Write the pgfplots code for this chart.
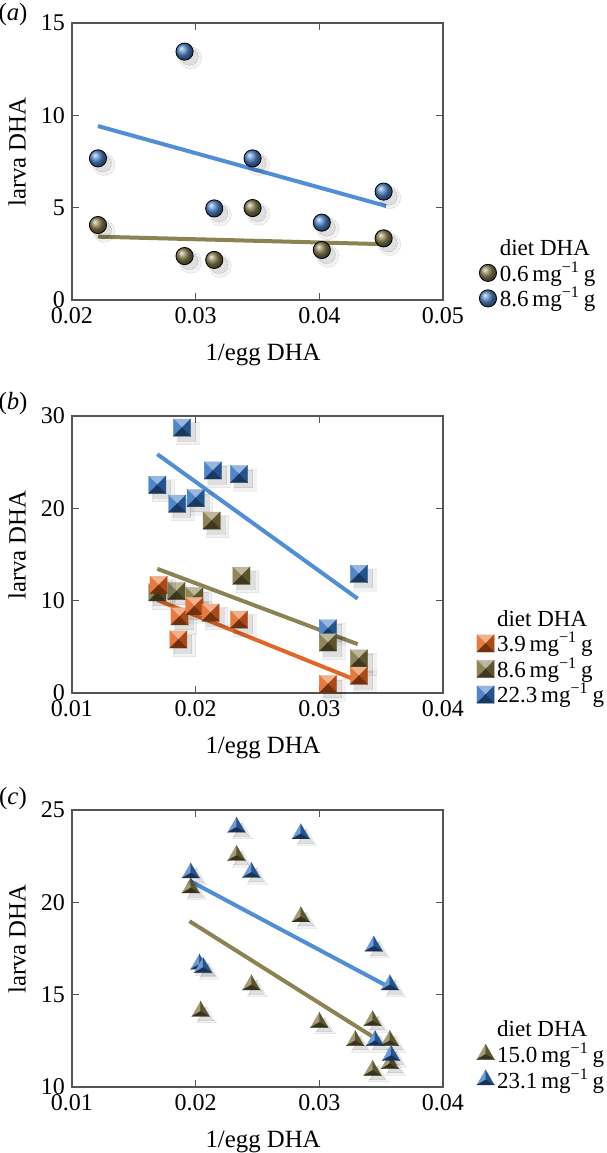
\documentclass[border=0pt]{standalone}
\usepackage{fontspec}
\setmainfont{Liberation Serif}
\usepackage{pgfplots}
\usepackage{pgfplotstable}
\pgfplotsset{compat=1.18}

\definecolor{lnblue}{RGB}{80,143,214}
\definecolor{lnolive}{RGB}{140,131,84}
\definecolor{lnorange}{RGB}{226,102,40}
\definecolor{mkblue}{RGB}{48,112,192}
\definecolor{mkolive}{RGB}{122,112,60}
\definecolor{mkorange}{RGB}{228,98,28}
\definecolor{framegray}{RGB}{85,85,85}
\newcommand{\lblfont}{\fontsize{12.4}{14}\selectfont}

% pyramid square marks
\newcommand{\defsq}[2]{%
\pgfdeclareplotmark{#1}{%
 \pgfsetlinewidth{0.15pt}%
 \pgfpathmoveto{\pgfqpoint{-\pgfplotmarksize}{\pgfplotmarksize}}%
 \pgfpathlineto{\pgfqpoint{\pgfplotmarksize}{\pgfplotmarksize}}%
 \pgfpathlineto{\pgfpointorigin}\pgfpathclose
 \pgfsetfillcolor{#2!50!white}\pgfsetstrokecolor{#2!50!white}\pgfusepath{fill,stroke}%
 \pgfpathmoveto{\pgfqpoint{-\pgfplotmarksize}{\pgfplotmarksize}}%
 \pgfpathlineto{\pgfqpoint{-\pgfplotmarksize}{-\pgfplotmarksize}}%
 \pgfpathlineto{\pgfpointorigin}\pgfpathclose
 \pgfsetfillcolor{#2!85!white}\pgfsetstrokecolor{#2!85!white}\pgfusepath{fill,stroke}%
 \pgfpathmoveto{\pgfqpoint{\pgfplotmarksize}{\pgfplotmarksize}}%
 \pgfpathlineto{\pgfqpoint{\pgfplotmarksize}{-\pgfplotmarksize}}%
 \pgfpathlineto{\pgfpointorigin}\pgfpathclose
 \pgfsetfillcolor{#2!75!black}\pgfsetstrokecolor{#2!75!black}\pgfusepath{fill,stroke}%
 \pgfpathmoveto{\pgfqpoint{-\pgfplotmarksize}{-\pgfplotmarksize}}%
 \pgfpathlineto{\pgfqpoint{\pgfplotmarksize}{-\pgfplotmarksize}}%
 \pgfpathlineto{\pgfpointorigin}\pgfpathclose
 \pgfsetfillcolor{#2!50!black}\pgfsetstrokecolor{#2!50!black}\pgfusepath{fill,stroke}%
}}
% pyramid triangle marks
\newcommand{\deftri}[2]{%
\pgfdeclareplotmark{#1}{%
 \pgfsetlinewidth{0.15pt}%
 \pgfpathmoveto{\pgfqpoint{0pt}{\pgfplotmarksize}}%
 \pgfpathlineto{\pgfqpoint{-0.866\pgfplotmarksize}{-0.5\pgfplotmarksize}}%
 \pgfpathlineto{\pgfpointorigin}\pgfpathclose
 \pgfsetfillcolor{#2!70!white}\pgfsetstrokecolor{#2!70!white}\pgfusepath{fill,stroke}%
 \pgfpathmoveto{\pgfqpoint{0pt}{\pgfplotmarksize}}%
 \pgfpathlineto{\pgfqpoint{0.866\pgfplotmarksize}{-0.5\pgfplotmarksize}}%
 \pgfpathlineto{\pgfpointorigin}\pgfpathclose
 \pgfsetfillcolor{#2!75!black}\pgfsetstrokecolor{#2!75!black}\pgfusepath{fill,stroke}%
 \pgfpathmoveto{\pgfqpoint{-0.866\pgfplotmarksize}{-0.5\pgfplotmarksize}}%
 \pgfpathlineto{\pgfqpoint{0.866\pgfplotmarksize}{-0.5\pgfplotmarksize}}%
 \pgfpathlineto{\pgfpointorigin}\pgfpathclose
 \pgfsetfillcolor{#2!45!black}\pgfsetstrokecolor{#2!45!black}\pgfusepath{fill,stroke}%
}}
\defsq{sqblue}{mkblue}
\defsq{sqolive}{mkolive}
\defsq{sqorange}{mkorange}
\deftri{triblue}{mkblue}
\deftri{triolive}{mkolive}

% ---------------- data ----------------
\pgfplotstableread{
x y
0.0221 4.06
0.0291 2.38
0.0315 2.17
0.0346 4.98
0.0402 2.71
0.0452 3.34
}\aOlive
\pgfplotstableread{
x y
0.0221 7.67
0.0291 13.45
0.0315 4.96
0.0346 7.67
0.0402 4.19
0.0452 5.87
}\aBlue
\pgfplotstableread{
x y
0.0170 11.70
0.0187 8.30
0.0186 5.80
0.0199 9.40
0.0212 8.70
0.0235 7.95
0.0307 0.97
0.0332 1.87
}\bOrange
\pgfplotstableread{
x y
0.0169 10.90
0.01845 11.04
0.0199 10.50
0.0213 18.67
0.0237 12.70
0.0307 5.47
0.0332 3.74
}\bOlive
\pgfplotstableread{
x y
0.0189 28.74
0.0169 22.55
0.0185 20.50
0.0200 21.12
0.0214 24.10
0.0235 23.71
0.0307 7.01
0.0332 12.91
}\bBlue
\pgfplotstableread{
x y
0.0233 22.54
0.0196 20.78
0.0285 19.22
0.0245 15.53
0.0204 14.10
0.0300 13.50
0.0329 12.51
0.0343 13.59
0.0357 12.51
0.0343 10.90
0.0357 11.26
}\cOlive
\pgfplotstableread{
x y
0.0233 24.07
0.0285 23.71
0.0196 21.59
0.0245 21.62
0.0203 16.65
0.0206 16.47
0.0344 17.63
0.0357 15.53
0.0345 12.51
0.0358 11.71
}\cBlue

\pgfplotsset{
 panel/.style={
   scale only axis, width=185.5pt, height=138.5pt,
   axis line style={draw=framegray, line width=0.9pt},
   every tick/.style={draw=framegray, line width=0.8pt},
   major tick length=3.5pt,
   tick align=inside,
   scaled x ticks=false,
   xticklabel style={/pgf/number format/fixed, /pgf/number format/fixed zerofill, /pgf/number format/precision=2},
   /pgf/number format/assume math mode=true,
   tick label style={font=\fontsize{12}{14}\selectfont},
   xlabel={\lblfont 1/egg DHA}, ylabel={\lblfont larva DHA},
   x label style={font=\lblfont, at={(axis description cs:0.515,-0.2)},anchor=center},
   y label style={font=\lblfont, at={(axis description cs:-0.148,0.534)},anchor=center},
   legend cell align=left,
   legend style={draw=none, fill=none, inner sep=0pt, font=\fontsize{11.5}{12}\selectfont,
     nodes={inner sep=0.6pt}, column sep=0.8pt, row sep=0.4pt, anchor=north west},
   legend image code/.code={\draw[##1] plot coordinates {(0pt,0pt)};},
   clip=false,
 },
 shadowA/.style={forget plot, only marks, mark=*, mark size=5.6pt,
   mark options={black, opacity=0.05, line width=0pt, xshift=3pt, yshift=-3pt}},
 shadowB/.style={forget plot, only marks, mark=*, mark size=4.4pt,
   mark options={black, opacity=0.08, line width=0pt, xshift=2.4pt, yshift=-2.4pt}},
 fitline/.style={forget plot, no marks, line width=2pt},
}

\begin{document}
\begin{tikzpicture}
\useasboundingbox (0,0) rectangle (303pt,-576.5pt);

% ---------------- (a) ----------------
\node at (6.5pt,-7.5pt) {\lblfont(\textit{a})};
\begin{axis}[panel, at={(36pt,-11.5pt)}, anchor=north west,
  xmin=0.02, xmax=0.05, ymin=0, ymax=15,
  xtick={0.02,0.03,0.04,0.05}, ytick={0,5,10,15},
  legend style={at={(axis description cs:1.096,0.224)}}]
\addplot[fitline, lnblue] coordinates {(0.0221,9.42) (0.0454,5.09)};
\addplot[fitline, lnolive] coordinates {(0.0221,3.43) (0.0454,3.02)};
\addplot[shadowA] table {\aOlive};
\addplot[shadowB] table {\aOlive};
\addplot[shadowA] table {\aBlue};
\addplot[shadowB] table {\aBlue};
\addplot[forget plot, only marks, mark=ball, ball color=mkolive!90!white, mark size=4.3pt] table {\aOlive};
\addplot[forget plot, only marks, mark=ball, ball color=mkblue!85!white, mark size=4.3pt] table {\aBlue};
\addlegendimage{empty legend}
\addlegendentry{diet DHA}
\addlegendimage{only marks, mark=ball, ball color=mkolive!90!white, mark size=4.3pt}
\addlegendentry{0.6\,mg\textsuperscript{−1}\,g}
\addlegendimage{only marks, mark=ball, ball color=mkblue!85!white, mark size=4.3pt}
\addlegendentry{8.6\,mg\textsuperscript{−1}\,g}
\end{axis}

% ---------------- (b) ----------------
\node at (6.5pt,-202pt) {\lblfont(\textit{b})};
\begin{axis}[panel, at={(36pt,-208pt)}, anchor=north west,
  xmin=0.01, xmax=0.04, ymin=0, ymax=30,
  xtick={0.01,0.02,0.03,0.04}, ytick={0,10,20,30},
  legend style={at={(axis description cs:1.090,0.305)}}]
\addplot[fitline, lnblue] coordinates {(0.0169,25.86) (0.0331,10.22)};
\addplot[fitline, lnolive] coordinates {(0.0169,13.45) (0.0331,5.29)};
\addplot[fitline, lnorange] coordinates {(0.0169,10.07) (0.0331,1.33)};
\addplot[shadowA, mark=square*] table {\bBlue};
\addplot[shadowB, mark=square*] table {\bBlue};
\addplot[forget plot, only marks, mark=sqblue, mark size=4.3pt] table {\bBlue};
\addplot[shadowA, mark=square*] table {\bOlive};
\addplot[shadowB, mark=square*] table {\bOlive};
\addplot[forget plot, only marks, mark=sqolive, mark size=4.3pt] table {\bOlive};
\addplot[shadowA, mark=square*] table {\bOrange};
\addplot[shadowB, mark=square*] table {\bOrange};
\addplot[forget plot, only marks, mark=sqorange, mark size=4.3pt] table {\bOrange};
\addlegendimage{empty legend}
\addlegendentry{diet DHA}
\addlegendimage{only marks, mark=sqorange, mark size=4.3pt}
\addlegendentry{3.9\,mg\textsuperscript{−1}\,g}
\addlegendimage{only marks, mark=sqolive, mark size=4.3pt}
\addlegendentry{8.6\,mg\textsuperscript{−1}\,g}
\addlegendimage{only marks, mark=sqblue, mark size=4.3pt}
\addlegendentry{22.3\,mg\textsuperscript{−1}\,g}
\end{axis}

% ---------------- (c) ----------------
\node at (6.5pt,-399.5pt) {\lblfont(\textit{c})};
\begin{axis}[panel, at={(36pt,-405pt)}, anchor=north west,
  xmin=0.01, xmax=0.04, ymin=10, ymax=25,
  xtick={0.01,0.02,0.03,0.04}, ytick={10,15,20,25},
  legend style={at={(axis description cs:1.090,0.244)}}]
\addplot[fitline, lnblue] coordinates {(0.0195,21.17) (0.0357,15.39)};
\addplot[fitline, lnolive] coordinates {(0.0195,18.98) (0.0344,12.69)};
\addplot[shadowA, mark=triangle*] table {\cOlive};
\addplot[shadowB, mark=triangle*] table {\cOlive};
\addplot[forget plot, only marks, mark=triolive, mark size=5pt] table {\cOlive};
\addplot[shadowA, mark=triangle*] table {\cBlue};
\addplot[shadowB, mark=triangle*] table {\cBlue};
\addplot[forget plot, only marks, mark=triblue, mark size=5pt] table {\cBlue};
\addlegendimage{empty legend}
\addlegendentry{diet DHA}
\addlegendimage{only marks, mark=triolive, mark size=5pt}
\addlegendentry{15.0\,mg\textsuperscript{−1}\,g}
\addlegendimage{only marks, mark=triblue, mark size=5pt}
\addlegendentry{23.1\,mg\textsuperscript{−1}\,g}
\end{axis}
\end{tikzpicture}
\end{document}
